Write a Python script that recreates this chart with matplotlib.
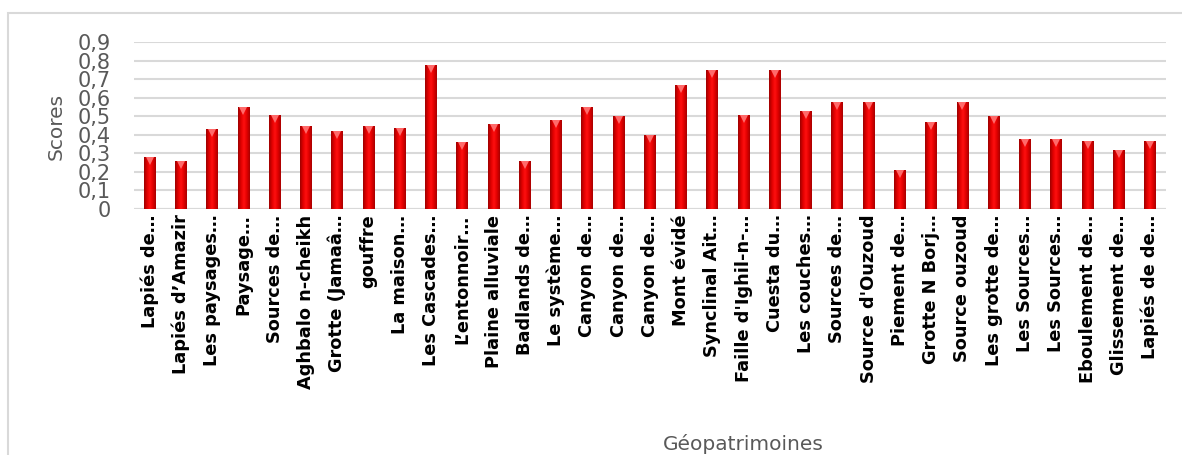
import numpy as np
import matplotlib
matplotlib.use("Agg")
import matplotlib.pyplot as plt
from matplotlib.colors import LinearSegmentedColormap
from matplotlib.patches import Rectangle
from matplotlib.transforms import ScaledTranslation

# geosite names (as shown on the axis) and their scores
sites = [
    "Lapiés de…", "Lapiés d’Amazir", "Les paysages…", "Paysage…", "Sources de…",
    "Aghbalo n-cheikh", "Grotte (Jamaâ…", "gouffre", "La maison…", "Les Cascades…",
    "L’entonnoir…", "Plaine alluviale", "Badlands de…", "Le système…", "Canyon de…",
    "Canyon de…", "Canyon de…", "Mont évidé", "Synclinal Ait…", "Faille d'Ighil-n-…",
    "Cuesta du…", "Les couches…", "Sources de…", "Source d'Ouzoud", "Piement de…",
    "Grotte N Borj…", "Source ouzoud", "Les grotte de…", "Les Sources…", "Les Sources…",
    "Eboulement de…", "Glissement de…", "Lapiés de de…",
]
scores = [
    0.28, 0.26, 0.43, 0.55, 0.51, 0.45, 0.42, 0.45, 0.44, 0.78,
    0.36, 0.46, 0.26, 0.48, 0.55, 0.50, 0.40, 0.67, 0.75, 0.51,
    0.75, 0.53, 0.58, 0.58, 0.21, 0.47, 0.58, 0.50, 0.38, 0.38,
    0.37, 0.32, 0.37,
]
yticks = [0, 0.1, 0.2, 0.3, 0.4, 0.5, 0.6, 0.7, 0.8, 0.9]
ytick_labels = ["0", "0,1", "0,2", "0,3", "0,4", "0,5", "0,6", "0,7", "0,8", "0,9"]

grey = "#595959"
grid = "#d9d9d9"

fig = plt.figure(figsize=(11.82, 4.55), dpi=100)
ax = fig.add_axes([0.1134, 0.5407, 0.8728, 0.3659])

# chart area border
fig.patches.append(Rectangle((8 / 1182, -0.2), 1.2, 0.9714 + 0.2, transform=fig.transFigure,
                             fill=False, edgecolor=grid, linewidth=1.5, zorder=0))

x = np.arange(len(sites))
bars = ax.bar(x, scores, width=0.38, color="#e00000", zorder=2)

# shaded cylinder look on each bar
cmap = LinearSegmentedColormap.from_list("redshade", ["#9c0000", "#e00000", "#ff1010", "#e00000", "#a80000"])
grad = np.linspace(0, 1, 64).reshape(1, -1)
for b in bars:
    x0, w, h = b.get_x(), b.get_width(), b.get_height()
    im = ax.imshow(grad, cmap=cmap, aspect="auto", extent=(x0, x0 + w, 0, h),
                   zorder=3, interpolation="bilinear")
    im.set_clip_path(b)

# small highlight at the top of each bar
offset = ax.transData + ScaledTranslation(0, -4 / 100, fig.dpi_scale_trans)
ax.plot(x, scores, "v", ms=5.5, color="#ff6a6a", mew=0, transform=offset, zorder=4)

ax.set_xlim(-0.5, len(sites) - 0.5)
ax.set_ylim(0, 0.9)
ax.set_yticks(yticks)
ax.set_yticklabels(ytick_labels, fontsize=15, color=grey)
ax.yaxis.grid(True, color=grid, linewidth=1.5, zorder=0)
ax.set_axisbelow(True)
for s in ax.spines.values():
    s.set_visible(False)
ax.axhline(0, color=grid, linewidth=1.5, zorder=1)
ax.tick_params(axis="both", length=0)
ax.tick_params(axis="y", pad=17)

ax.set_xticks(x)
ax.set_xticklabels(sites, rotation=90, fontsize=12.8, fontweight="bold", color="black")
ax.tick_params(axis="x", pad=4)

fig.text(56 / 1182, 1 - 126 / 455, "Scores", rotation=90, fontsize=14.5, color=grey,
         ha="center", va="center")
fig.text(743 / 1182, 1 - 444 / 455, "Géopatrimoines", fontsize=14.5, color=grey,
         ha="center", va="center")

fig.savefig("out.png", dpi=100, facecolor="white")
